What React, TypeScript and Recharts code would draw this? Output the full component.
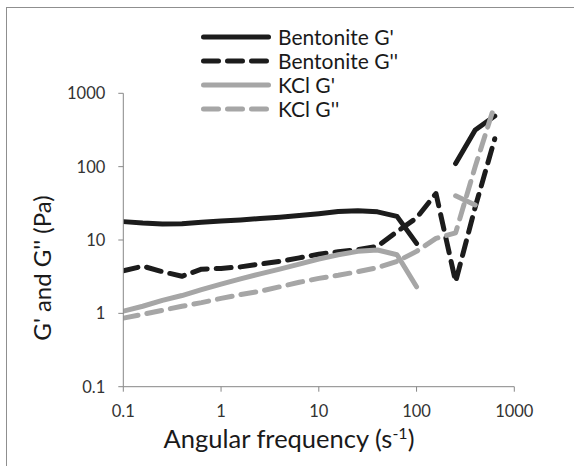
import React from 'react';
import { LineChart, Line, XAxis, YAxis, Legend } from 'recharts';

// Angular frequency (s^-1)
const freq = [0.1, 0.158, 0.251, 0.398, 0.631, 1, 1.58, 2.51, 3.98, 6.31, 10, 15.8, 25.1, 39.8, 63.1, 100, 158, 251, 398, 631];
// Moduli (Pa)
const bentoniteG1 = [17.8, 17.0, 16.5, 16.7, 17.4, 18.2, 18.8, 19.6, 20.5, 21.5, 22.8, 24.5, 25, 24.2, 21, 9, null, 110, 316, 490];
const bentoniteG2 = [3.8, 4.4, 3.7, 3.2, 4.0, 4.1, 4.3, 4.7, 5.1, 5.7, 6.4, 6.9, 7.4, 8.2, 13, 20, 43, 2.7, 28, 240];
const kclG1 = [1.07, 1.25, 1.5, 1.75, 2.1, 2.5, 2.95, 3.45, 4.0, 4.7, 5.5, 6.3, 7.0, 7.3, 6.3, 2.3, null, 40, 30, null];
const kclG2 = [0.86, 0.97, 1.1, 1.25, 1.4, 1.6, 1.8, 2.0, 2.3, 2.65, 3.0, 3.3, 3.7, 4.2, 5.1, 7, 10.5, 12.5, 100, 700];

const xTicks = [0.1, 1, 10, 100, 1000];
const yTicks = [0.1, 1, 10, 100, 1000];

const seriesNames = ["Bentonite G'", "Bentonite G''", "KCl G'", "KCl G''"];

const rows = freq.map((x, i) => ({
  x,
  bG1: bentoniteG1[i],
  bG2: bentoniteG2[i],
  kG1: kclG1[i],
  kG2: kclG2[i],
}));

const BLACK = '#1c1c1c';
const GRAY = '#a6a6a6';
const DASH = '15 9';
const FONT = 'Lato, "Liberation Sans", sans-serif';

const seriesStyle = [
  { key: 'bG1', color: BLACK, dash: undefined as string | undefined },
  { key: 'bG2', color: BLACK, dash: DASH },
  { key: 'kG1', color: GRAY, dash: undefined },
  { key: 'kG2', color: GRAY, dash: DASH },
];

const LegendBox = () => (
  <div style={{ fontFamily: FONT }}>
    {seriesStyle.map((s, i) => (
      <div key={s.key} style={{ display: 'flex', alignItems: 'center', height: 24 }}>
        <svg width={80} height={24} style={{ display: 'block' }}>
          <line x1={5.5} y1={12} x2={70.5} y2={12} stroke={s.color} strokeWidth={5}
            strokeDasharray={s.dash} strokeLinecap="round" />
        </svg>
        <span style={{ fontSize: 21, color: '#1a1a1a', lineHeight: '24px', whiteSpace: 'nowrap' }}>{seriesNames[i]}</span>
      </div>
    ))}
  </div>
);

const fmt = (v: number) => String(v);

export default function App() {
  return (
    <div style={{ position: 'absolute', left: 0, top: 0, width: 574, height: 466, overflow: 'hidden', background: '#fff' }}>
      <div style={{ position: 'absolute', left: 6, top: 7, width: 620, height: 520, border: '1.5px solid #8f8f8f' }} />
      <div style={{ position: 'absolute', left: 0, top: 0 }}>
        <LineChart width={574} height={466} data={rows}
          margin={{ top: 93.3, right: 59.7, bottom: 49.3, left: 63.3 }}>
          <XAxis dataKey="x" type="number" scale="log" domain={[0.1, 1000]} ticks={xTicks}
            allowDataOverflow tickFormatter={fmt} height={30}
            stroke="#878787" tickSize={5} tickMargin={13.5}
            tick={{ fill: '#333', fontSize: 16.5, fontFamily: FONT }}
            label={{
              content: () => (
                <text x={289} y={448} textAnchor="middle" fill="#1a1a1a" fontSize={25.5} fontFamily={FONT}>
                  Angular frequency (s<tspan dy={-9} fontSize={16}>-1</tspan><tspan dy={9}>)</tspan>
                </text>
              ),
            }} />
          <YAxis type="number" scale="log" domain={[0.1, 1000]} ticks={yTicks}
            allowDataOverflow tickFormatter={fmt} width={60}
            stroke="#878787" tickSize={5} tickMargin={13}
            tick={{ fill: '#333', fontSize: 16.5, fontFamily: FONT }}
            label={{
              content: () => (
                <text x={51} y={268} transform="rotate(-90, 51, 268)" textAnchor="middle"
                  fill="#1a1a1a" fontSize={24} fontFamily={FONT}>
                  G' and G'' (Pa)
                </text>
              ),
            }} />
          <Legend layout="vertical" align="center" verticalAlign="middle"
            wrapperStyle={{ position: 'absolute', left: 198, top: 25, width: 240, height: 96 }}
            content={() => <LegendBox />} />
          {seriesStyle.map((s, i) => (
            <Line key={s.key} dataKey={s.key} name={seriesNames[i]} type="linear"
              stroke={s.color} strokeWidth={5} strokeDasharray={s.dash}
              strokeLinecap="round" strokeLinejoin="round"
              dot={false} activeDot={false} isAnimationActive={false} />
          ))}
        </LineChart>
      </div>
    </div>
  );
}
